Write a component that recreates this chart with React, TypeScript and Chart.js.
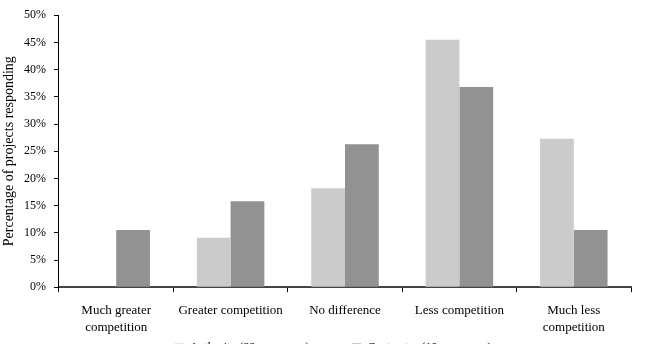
import React, { useEffect, useRef } from "react";
import { Chart, registerables } from "chart.js";

Chart.register(...registerables);

const categories: string[][] = [
  ["Much greater", "competition"],
  ["Greater competition"],
  ["No difference"],
  ["Less competition"],
  ["Much less", "competition"],
];
const authorityLabel = "Authority (22 responses)";
const contractorLabel = "Contractor (19 responses)";
const authorityValues = [0, 9.1, 18.2, 45.5, 27.3];
const contractorValues = [10.5, 15.8, 26.3, 36.8, 10.5];
const yTicks = [0, 5, 10, 15, 20, 25, 30, 35, 40, 45, 50];
const yTitle = "Percentage of projects responding";

export default function App() {
  const ref = useRef<HTMLCanvasElement | null>(null);
  useEffect(() => {
    document.body.style.margin = "0";
    const family = "'Liberation Serif', 'Times New Roman', serif";
    const font = { family, size: 12 };
    const chart = new Chart(ref.current!, {
      type: "bar",
      data: {
        labels: categories,
        datasets: [
          {
            label: authorityLabel,
            data: authorityValues,
            backgroundColor: "#cbcbcb",
            categoryPercentage: 0.59,
            barPercentage: 1,
          },
          {
            label: contractorLabel,
            data: contractorValues,
            backgroundColor: "#929292",
            categoryPercentage: 0.59,
            barPercentage: 1,
          },
        ],
      },
      options: {
        animation: false,
        responsive: true,
        maintainAspectRatio: false,
        layout: { padding: { top: 10, right: 16, left: 1, bottom: 0 } },
        plugins: {
          tooltip: { enabled: false },
          legend: {
            position: "bottom",
            fullSize: false,
            labels: {
              color: "#000",
              font,
              boxWidth: 9,
              boxHeight: 9,
              padding: 4,
              generateLabels: (c: any) => {
                const items = Chart.defaults.plugins.legend.labels.generateLabels(c);
                items[0].text = items[0].text + "             ";
                items[1].text = items[1].text + "        ";
                return items.map((it: any) => ({ ...it, lineWidth: 0, strokeStyle: "transparent" }));
              },
            },
          },
        },
        scales: {
          x: {
            afterFit: (axis: any) => {
              axis.height -= 8;
            },
            grid: {
              display: true,
              offset: true,
              drawOnChartArea: false,
              drawTicks: true,
              tickLength: 5,
              color: "#000",
            },
            border: { display: true, color: "#444", width: 2 },
            ticks: {
              color: "#000",
              font: { family, size: 13, lineHeight: 1.3 },
              padding: 10,
              maxRotation: 0,
              autoSkip: false,
            },
          },
          y: {
            min: 0,
            max: 50,
            afterBuildTicks: (axis: any) => {
              axis.ticks = yTicks.map((v) => ({ value: v }));
            },
            grid: {
              display: true,
              drawOnChartArea: false,
              drawTicks: true,
              tickLength: 5,
              color: "#000",
            },
            border: { display: true, color: "#000", width: 1 },
            ticks: {
              color: "#000",
              font,
              padding: 8,
              callback: (v: any) => v + "%",
            },
            title: {
              display: true,
              text: yTitle,
              color: "#000",
              font: { family, size: 14, lineHeight: 1 },
              padding: { top: 1, bottom: 0 },
            },
          },
        },
      },
    });
    return () => chart.destroy();
  }, []);
  return (
    <div style={{ position: "absolute", left: 0, top: 0, width: 647, height: 344, overflow: "hidden" }}>
      <div style={{ position: "relative", width: 647, height: 364 }}>
        <canvas ref={ref} />
      </div>
    </div>
  );
}
